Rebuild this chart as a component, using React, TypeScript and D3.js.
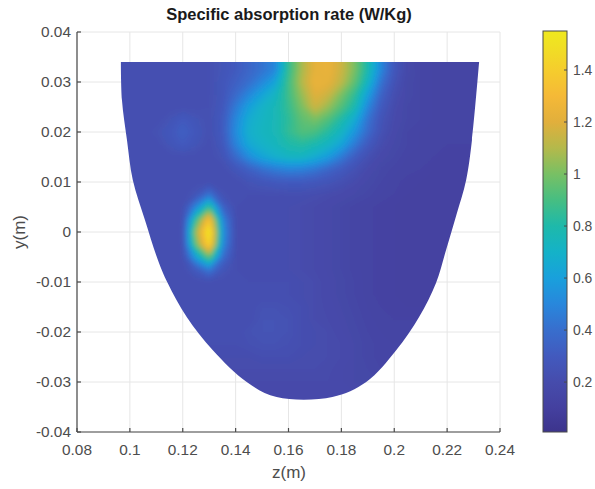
import React from 'react';
import * as d3 from 'd3';

const W = 595;
const H = 489;

// axis ticks
const xTicks = [0.08, 0.1, 0.12, 0.14, 0.16, 0.18, 0.2, 0.22, 0.24];
const xTickLabels = ['0.08', '0.1', '0.12', '0.14', '0.16', '0.18', '0.2', '0.22', '0.24'];
const yTicks = [0.04, 0.03, 0.02, 0.01, 0, -0.01, -0.02, -0.03, -0.04];
const yTickLabels = ['0.04', '0.03', '0.02', '0.01', '0', '-0.01', '-0.02', '-0.03', '-0.04'];
const cbTicks = [0.2, 0.4, 0.6, 0.8, 1, 1.2, 1.4];
const cbTickLabels = ['0.2', '0.4', '0.6', '0.8', '1', '1.2', '1.4'];
const cbDomain = [0.008, 1.55];

// colormap (as seen in the colorbar)
const cmapValues = [0.008, 0.1, 0.2, 0.3, 0.4, 0.5, 0.6, 0.7, 0.8, 0.9, 1.0, 1.1, 1.2, 1.3, 1.4, 1.5, 1.55];
const cmapColors = [
  '#3c348c', '#44409f', '#464cac', '#425abe', '#386ecd', '#2887dc', '#19a0dc', '#14b2c8',
  '#1eb9aa', '#46be82', '#78c064', '#b4b94b', '#e1af3c', '#f5b937', '#f5cd2d', '#f0e123', '#f0e81e',
];

// sample grid (z columns, y rows) of SAR values
const zGrid = [0.095, 0.1, 0.105, 0.11, 0.115, 0.12, 0.125, 0.13, 0.135, 0.14, 0.145, 0.15, 0.155, 0.16, 0.165,
  0.17, 0.175, 0.18, 0.185, 0.19, 0.195, 0.2, 0.205, 0.21, 0.215, 0.22, 0.225, 0.23, 0.235];
const yGrid = [0.035, 0.0325, 0.03, 0.0275, 0.025, 0.0225, 0.02, 0.0175, 0.015, 0.0125, 0.01, 0.0075, 0.005, 0.0025, 0,
  -0.0025, -0.005, -0.0075, -0.01, -0.0125, -0.015, -0.0175, -0.02, -0.0225, -0.025, -0.0275, -0.03, -0.0325, -0.035];
const sarGrid = [
  [0.22, 0.22, 0.22, 0.22, 0.22, 0.22, 0.22, 0.23, 0.26, 0.3, 0.36, 0.42, 0.5, 0.85, 1.08, 1.22, 1.24, 1.15, 1.0, 0.78, 0.5, 0.28, 0.18, 0.15, 0.14, 0.13, 0.13, 0.13, 0.13],
  [0.22, 0.22, 0.22, 0.22, 0.22, 0.22, 0.22, 0.23, 0.26, 0.3, 0.36, 0.42, 0.5, 0.85, 1.08, 1.22, 1.24, 1.15, 1.0, 0.78, 0.5, 0.28, 0.18, 0.15, 0.14, 0.13, 0.13, 0.13, 0.13],
  [0.22, 0.22, 0.22, 0.22, 0.22, 0.22, 0.22, 0.23, 0.27, 0.33, 0.4, 0.5, 0.62, 0.88, 1.1, 1.24, 1.22, 1.12, 0.95, 0.72, 0.42, 0.25, 0.17, 0.15, 0.14, 0.13, 0.13, 0.13, 0.13],
  [0.22, 0.22, 0.22, 0.22, 0.22, 0.22, 0.22, 0.23, 0.27, 0.38, 0.5, 0.62, 0.72, 0.88, 1.05, 1.2, 1.15, 1.0, 0.85, 0.6, 0.35, 0.22, 0.17, 0.15, 0.14, 0.13, 0.13, 0.13, 0.13],
  [0.22, 0.22, 0.22, 0.22, 0.22, 0.22, 0.22, 0.23, 0.28, 0.45, 0.6, 0.7, 0.76, 0.86, 1.0, 1.15, 1.05, 0.92, 0.78, 0.5, 0.3, 0.2, 0.16, 0.15, 0.14, 0.13, 0.13, 0.13, 0.13],
  [0.22, 0.22, 0.22, 0.22, 0.25, 0.3, 0.26, 0.23, 0.3, 0.5, 0.66, 0.72, 0.76, 0.84, 0.95, 1.0, 0.92, 0.8, 0.66, 0.42, 0.26, 0.19, 0.16, 0.15, 0.14, 0.13, 0.13, 0.13, 0.13],
  [0.22, 0.22, 0.22, 0.24, 0.28, 0.33, 0.28, 0.23, 0.3, 0.52, 0.68, 0.73, 0.76, 0.85, 0.92, 0.9, 0.82, 0.72, 0.56, 0.38, 0.24, 0.18, 0.15, 0.14, 0.13, 0.13, 0.13, 0.13, 0.13],
  [0.22, 0.22, 0.22, 0.22, 0.26, 0.3, 0.26, 0.22, 0.28, 0.48, 0.64, 0.7, 0.74, 0.8, 0.82, 0.78, 0.72, 0.62, 0.45, 0.3, 0.21, 0.17, 0.15, 0.14, 0.13, 0.13, 0.13, 0.13, 0.13],
  [0.22, 0.22, 0.22, 0.22, 0.22, 0.22, 0.22, 0.22, 0.25, 0.38, 0.52, 0.62, 0.68, 0.72, 0.72, 0.66, 0.58, 0.45, 0.32, 0.23, 0.18, 0.16, 0.14, 0.13, 0.13, 0.12, 0.12, 0.12, 0.12],
  [0.22, 0.22, 0.22, 0.22, 0.22, 0.22, 0.22, 0.22, 0.22, 0.27, 0.33, 0.4, 0.45, 0.48, 0.47, 0.43, 0.36, 0.3, 0.24, 0.19, 0.16, 0.145, 0.135, 0.13, 0.12, 0.12, 0.12, 0.12, 0.12],
  [0.22, 0.22, 0.22, 0.22, 0.22, 0.22, 0.22, 0.22, 0.22, 0.22, 0.25, 0.27, 0.29, 0.3, 0.3, 0.28, 0.26, 0.23, 0.2, 0.17, 0.15, 0.135, 0.125, 0.12, 0.115, 0.115, 0.115, 0.115, 0.115],
  [0.22, 0.22, 0.22, 0.22, 0.22, 0.22, 0.26, 0.42, 0.24, 0.22, 0.22, 0.22, 0.22, 0.22, 0.22, 0.21, 0.2, 0.185, 0.17, 0.155, 0.14, 0.13, 0.12, 0.115, 0.11, 0.11, 0.11, 0.11, 0.11],
  [0.22, 0.22, 0.22, 0.22, 0.22, 0.22, 0.5, 0.85, 0.35, 0.22, 0.21, 0.21, 0.21, 0.21, 0.2, 0.19, 0.175, 0.16, 0.145, 0.135, 0.125, 0.12, 0.115, 0.11, 0.11, 0.11, 0.11, 0.11, 0.11],
  [0.22, 0.22, 0.22, 0.22, 0.22, 0.22, 0.85, 1.35, 0.5, 0.22, 0.21, 0.21, 0.21, 0.21, 0.2, 0.19, 0.175, 0.16, 0.145, 0.135, 0.125, 0.12, 0.115, 0.11, 0.11, 0.11, 0.11, 0.11, 0.11],
  [0.22, 0.22, 0.22, 0.22, 0.22, 0.22, 1.05, 1.55, 0.55, 0.22, 0.21, 0.21, 0.21, 0.21, 0.2, 0.19, 0.175, 0.16, 0.145, 0.135, 0.125, 0.12, 0.115, 0.11, 0.11, 0.11, 0.11, 0.11, 0.11],
  [0.22, 0.22, 0.22, 0.22, 0.22, 0.22, 0.95, 1.45, 0.52, 0.22, 0.21, 0.21, 0.21, 0.21, 0.2, 0.19, 0.175, 0.16, 0.145, 0.135, 0.125, 0.12, 0.115, 0.11, 0.11, 0.11, 0.11, 0.11, 0.11],
  [0.22, 0.22, 0.22, 0.22, 0.22, 0.22, 0.6, 0.95, 0.4, 0.22, 0.21, 0.21, 0.21, 0.21, 0.2, 0.19, 0.175, 0.16, 0.145, 0.135, 0.125, 0.12, 0.115, 0.11, 0.11, 0.11, 0.11, 0.11, 0.11],
  [0.22, 0.22, 0.22, 0.22, 0.22, 0.22, 0.3, 0.45, 0.27, 0.22, 0.21, 0.21, 0.21, 0.21, 0.2, 0.19, 0.175, 0.16, 0.145, 0.135, 0.125, 0.12, 0.115, 0.11, 0.11, 0.11, 0.11, 0.11, 0.11],
  [0.22, 0.22, 0.22, 0.22, 0.22, 0.22, 0.22, 0.22, 0.22, 0.22, 0.22, 0.22, 0.22, 0.22, 0.21, 0.2, 0.18, 0.165, 0.15, 0.135, 0.125, 0.12, 0.115, 0.11, 0.11, 0.11, 0.11, 0.11, 0.11],
  [0.22, 0.22, 0.22, 0.22, 0.22, 0.22, 0.22, 0.22, 0.22, 0.22, 0.22, 0.22, 0.22, 0.22, 0.21, 0.2, 0.18, 0.165, 0.15, 0.135, 0.125, 0.12, 0.115, 0.115, 0.115, 0.115, 0.115, 0.115, 0.115],
  [0.22, 0.22, 0.22, 0.22, 0.22, 0.22, 0.22, 0.22, 0.22, 0.22, 0.22, 0.24, 0.24, 0.23, 0.22, 0.2, 0.185, 0.17, 0.155, 0.14, 0.13, 0.125, 0.12, 0.12, 0.12, 0.12, 0.12, 0.12, 0.12],
  [0.22, 0.22, 0.22, 0.22, 0.22, 0.22, 0.22, 0.22, 0.22, 0.22, 0.22, 0.25, 0.25, 0.24, 0.22, 0.2, 0.19, 0.175, 0.16, 0.145, 0.135, 0.13, 0.13, 0.13, 0.13, 0.13, 0.13, 0.13, 0.13],
  [0.22, 0.22, 0.22, 0.22, 0.22, 0.22, 0.22, 0.22, 0.22, 0.22, 0.24, 0.25, 0.25, 0.24, 0.22, 0.21, 0.2, 0.18, 0.165, 0.15, 0.14, 0.135, 0.13, 0.13, 0.13, 0.13, 0.13, 0.13, 0.13],
  [0.22, 0.22, 0.22, 0.22, 0.22, 0.22, 0.22, 0.22, 0.22, 0.22, 0.23, 0.24, 0.24, 0.23, 0.22, 0.21, 0.2, 0.19, 0.17, 0.155, 0.145, 0.14, 0.14, 0.14, 0.14, 0.14, 0.14, 0.14, 0.14],
  [0.21, 0.21, 0.21, 0.21, 0.21, 0.21, 0.21, 0.21, 0.21, 0.21, 0.21, 0.22, 0.22, 0.22, 0.21, 0.2, 0.2, 0.19, 0.17, 0.155, 0.145, 0.14, 0.14, 0.14, 0.14, 0.14, 0.14, 0.14, 0.14],
  [0.2, 0.2, 0.2, 0.2, 0.2, 0.2, 0.2, 0.2, 0.2, 0.2, 0.2, 0.2, 0.2, 0.2, 0.2, 0.2, 0.195, 0.18, 0.17, 0.16, 0.15, 0.15, 0.15, 0.15, 0.15, 0.15, 0.15, 0.15, 0.15],
  [0.19, 0.19, 0.19, 0.19, 0.19, 0.19, 0.19, 0.19, 0.19, 0.19, 0.19, 0.19, 0.19, 0.19, 0.19, 0.19, 0.19, 0.18, 0.17, 0.16, 0.16, 0.16, 0.16, 0.16, 0.16, 0.16, 0.16, 0.16, 0.16],
  [0.18, 0.18, 0.18, 0.18, 0.18, 0.18, 0.18, 0.18, 0.18, 0.18, 0.18, 0.18, 0.18, 0.18, 0.18, 0.18, 0.18, 0.18, 0.18, 0.18, 0.18, 0.18, 0.18, 0.18, 0.18, 0.18, 0.18, 0.18, 0.18],
  [0.18, 0.18, 0.18, 0.18, 0.18, 0.18, 0.18, 0.18, 0.18, 0.18, 0.18, 0.18, 0.18, 0.18, 0.18, 0.18, 0.18, 0.18, 0.18, 0.18, 0.18, 0.18, 0.18, 0.18, 0.18, 0.18, 0.18, 0.18, 0.18],
];

// outline of the model cross-section (z, y), from top-left around the bottom to top-right
const outlineZ = [0.0966, 0.097, 0.0989, 0.1011, 0.1057, 0.1106, 0.1143, 0.1215, 0.1313, 0.1442, 0.1555, 0.1766,
  0.1894, 0.2008, 0.2094, 0.2158, 0.2196, 0.2235, 0.2272, 0.2294, 0.2321];
const outlineY = [0.034, 0.0264, 0.0184, 0.0104, 0.0024, -0.0056, -0.0102, -0.017, -0.0236, -0.03, -0.033, -0.033,
  -0.03, -0.0236, -0.017, -0.0102, -0.0036, 0.0034, 0.0104, 0.0184, 0.034];

const FONT = '"Liberation Sans", Arial, Helvetica, sans-serif';

export default function App() {
  const left = 77, right = 500, top = 32, bottom = 432;
  const x = d3.scaleLinear().domain([0.08, 0.24]).range([left, right]);
  const y = d3.scaleLinear().domain([-0.04, 0.04]).range([bottom, top]);
  const color = d3.scaleLinear<string>().domain(cmapValues).range(cmapColors).interpolate(d3.interpolateRgb).clamp(true);

  const nx = zGrid.length;
  const ny = yGrid.length;
  const dz = zGrid[1] - zGrid[0];
  const dy = yGrid[1] - yGrid[0];
  const values = sarGrid.flat();
  const step = 0.01;
  const thresholds = d3.range(0, 1.6, step);
  const contours = d3.contours().size([nx, ny]).thresholds(thresholds)(values);
  const proj = d3.geoTransform({
    point(px: number, py: number) {
      (this as any).stream.point(x(zGrid[0] + (px - 0.5) * dz), y(yGrid[0] + (py - 0.5) * dy));
    },
  });
  const geoPath = d3.geoPath(proj);

  const outline = outlineZ.map((z, i) => [x(z), y(outlineY[i])] as [number, number]);
  const outlinePath = (d3.line().curve(d3.curveCatmullRom.alpha(0.5))(outline) || '') + 'Z';

  // colorbar
  const cbX0 = 543, cbX1 = 567, cbTop = 31, cbBottom = 432;
  const cb = d3.scaleLinear().domain(cbDomain).range([cbBottom, cbTop]);

  const axisColor = '#4a4a4a';
  const textColor = '#4d4d4d';

  return (
    <svg width={W} height={H} style={{ position: 'absolute', left: 0, top: 0, background: '#fff' }} fontFamily={FONT}>
      <defs>
        <clipPath id="shapeClip">
          <path d={outlinePath} />
        </clipPath>
        <filter id="soft" x="-10%" y="-10%" width="120%" height="120%">
          <feGaussianBlur stdDeviation="2.5" />
        </filter>
        <linearGradient id="cbGrad" gradientUnits="userSpaceOnUse" x1="0" y1={cbBottom} x2="0" y2={cbTop}>
          {cmapValues.map((v, i) => (
            <stop key={i} offset={(v - cbDomain[0]) / (cbDomain[1] - cbDomain[0])} stopColor={cmapColors[i]} />
          ))}
        </linearGradient>
      </defs>

      {/* grid */}
      <g stroke="#e6e6e6" strokeWidth={1}>
        {xTicks.map((t, i) => (
          <line key={'gx' + i} x1={x(t)} x2={x(t)} y1={top} y2={bottom} />
        ))}
        {yTicks.map((t, i) => (
          <line key={'gy' + i} x1={left} x2={right} y1={y(t)} y2={y(t)} />
        ))}
      </g>

      {/* heat map */}
      <g clipPath="url(#shapeClip)">
        <g filter="url(#soft)">
          {contours.map((c, i) => (
            <path key={i} d={geoPath(c as any) || ''} fill={color(c.value + step / 2)} stroke={color(c.value + step / 2)} strokeWidth={0.5} />
          ))}
        </g>
      </g>

      {/* axes */}
      <g stroke={axisColor} strokeWidth={1.2} fill="none">
        <line x1={left} x2={left} y1={top} y2={bottom} />
        <line x1={left} x2={right} y1={bottom} y2={bottom} />
        {xTicks.map((t, i) => (
          <line key={'tx' + i} x1={x(t)} x2={x(t)} y1={bottom} y2={bottom - 4} />
        ))}
        {yTicks.map((t, i) => (
          <line key={'ty' + i} x1={left} x2={left + 4} y1={y(t)} y2={y(t)} />
        ))}
      </g>
      <g fill={textColor} fontSize={15.4}>
        {xTicks.map((t, i) => (
          <text key={'lx' + i} x={x(t)} y={455} textAnchor="middle">{xTickLabels[i]}</text>
        ))}
        {yTicks.map((t, i) => (
          <text key={'ly' + i} x={71} y={y(t)} dy="0.35em" textAnchor="end">{yTickLabels[i]}</text>
        ))}
      </g>
      <text x={289} y={478} textAnchor="middle" fontSize={17} fill={textColor}>z(m)</text>
      <text transform="translate(25,232) rotate(-90)" textAnchor="middle" fontSize={17} fill={textColor}>y(m)</text>
      <text x={289} y={20} textAnchor="middle" fontSize={16.5} fontWeight="bold" fill="#1a1a1a">Specific absorption rate (W/Kg)</text>

      {/* colorbar */}
      <rect x={cbX0} y={cbTop} width={cbX1 - cbX0} height={cbBottom - cbTop} fill="url(#cbGrad)" stroke={axisColor} strokeWidth={1} />
      <g stroke={axisColor} strokeWidth={1}>
        {cbTicks.map((t, i) => (
          <line key={'cbt' + i} x1={cbX1 - 3} x2={cbX1} y1={cb(t)} y2={cb(t)} />
        ))}
      </g>
      <g fill={textColor} fontSize={13.9}>
        {cbTicks.map((t, i) => (
          <text key={'cbl' + i} x={cbX1 + 6} y={cb(t)} dy="0.35em">{cbTickLabels[i]}</text>
        ))}
      </g>
    </svg>
  );
}
